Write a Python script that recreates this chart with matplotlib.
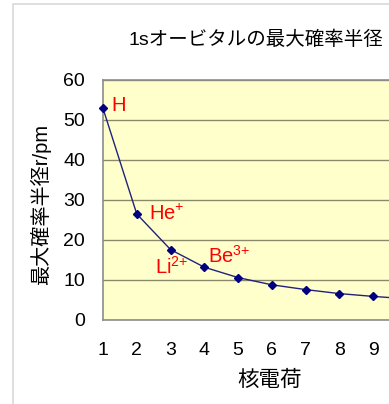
import numpy as np
import matplotlib.pyplot as plt
from matplotlib.patches import Rectangle

plt.rcParams['font.family'] = ['Liberation Sans', 'Noto Sans CJK JP']
plt.rcParams['mathtext.fontset'] = 'custom'
plt.rcParams['mathtext.rm'] = 'Liberation Sans'
plt.rcParams['mathtext.it'] = 'Liberation Sans'
plt.rcParams['mathtext.bf'] = 'Liberation Sans'

# nuclear charge Z and most probable radius of 1s (a0 / Z) in pm
Z = [1, 2, 3, 4, 5, 6, 7, 8, 9, 10]
r_max = [52.9, 26.5, 17.6, 13.2, 10.6, 8.8, 7.6, 6.6, 5.9, 5.3]

# hydrogen-like ions, braces keep '+' from getting operator spacing
ion_names = ['H', 'He$^{{+}}$', 'Li$^{2{+}}$', 'Be$^{3{+}}$']
ion_pos = [(1.25, 52.2), (2.35, 25.0), (2.55, 11.5), (4.1, 14.2)]

W, H = 389, 404
fig = plt.figure(figsize=(W / 100, H / 100), dpi=100)

# outer chart frame
fig.patches.append(Rectangle((13 / W, -0.1), 1.2, 1.1 - 4 / H,
                             transform=fig.transFigure, fill=False,
                             edgecolor='#d9d9d9', linewidth=1.2))

ax = fig.add_axes([103 / W, 1 - 320 / H, (407 - 103) / W, 240 / H])
ax.set_facecolor('#ffffcc')
ax.set_xlim(1, 10)
ax.set_ylim(0, 60)
ax.set_yticks(range(0, 61, 10))
ax.set_xticks(range(1, 10))
ax.yaxis.grid(True, color='#8a8a6a', linewidth=1.0)
ax.set_axisbelow(True)
for s in ax.spines.values():
    s.set_color('#8c8c8c')
    s.set_linewidth(1.2)
ax.tick_params(length=0, labelsize=14, colors='black')
ax.tick_params(axis='y', pad=13)
ax.tick_params(axis='x', pad=16)

ax.plot(Z, r_max, color='#22227a', linewidth=1.0, marker='D',
        markersize=4, markerfacecolor='#000080', markeredgecolor='#000080',
        clip_on=False, zorder=3)

for name, (x, y) in zip(ion_names, ion_pos):
    ax.text(x, y, name, color='red', fontsize=14.5, va='baseline', ha='left')

fig.text(128 / W, 1 - 40 / H, '1sオービタルの最大確率半径', fontsize=14,
         va='center', ha='left')
fig.text(41 / W, 1 - 204 / H, '最大確率半径r/pm', fontsize=14.5,
         rotation=90, va='center', ha='center')
fig.text(270 / W, 1 - 380 / H, '核電荷', fontsize=15.5,
         va='center', ha='center')

fig.savefig('out.png', dpi=100)
